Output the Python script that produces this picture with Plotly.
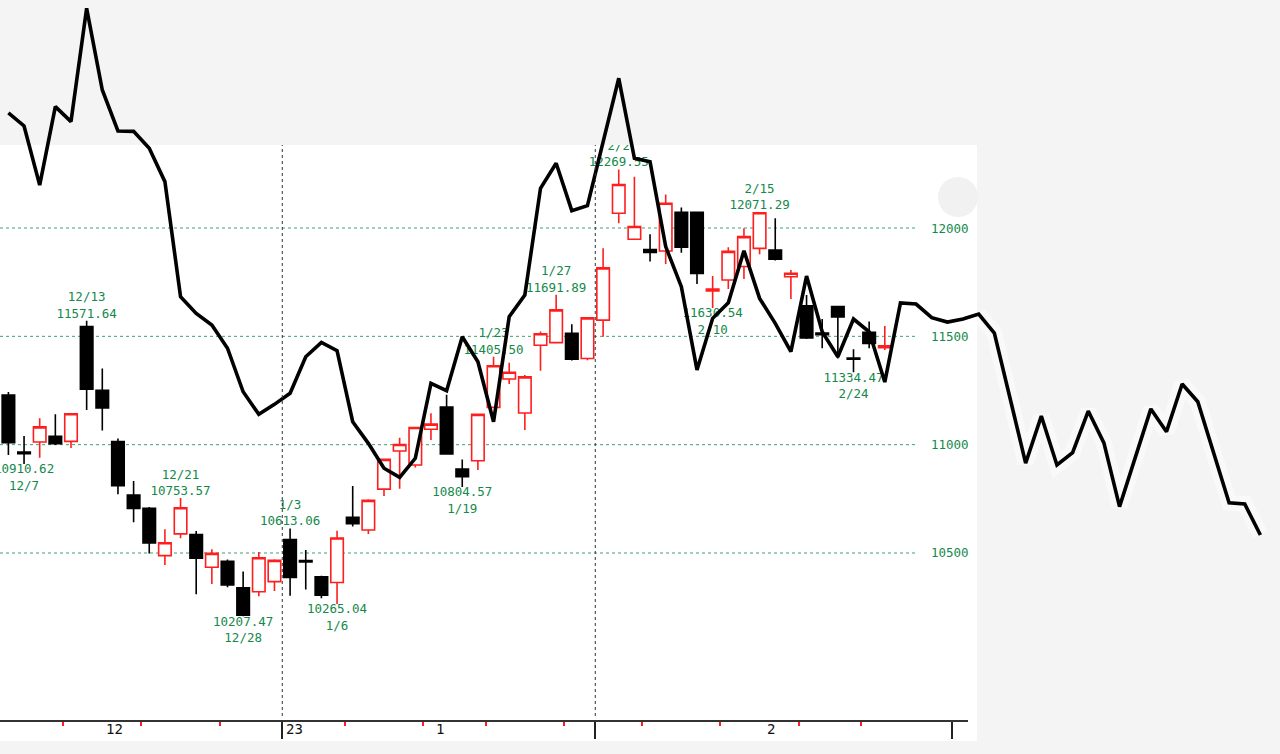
import plotly.graph_objects as go

# ---------------- data ----------------
dates = ["12/6", "12/7", "12/8", "12/9", "12/12", "12/13", "12/14", "12/15", "12/16",
         "12/19", "12/20", "12/21", "12/22", "12/23", "12/27", "12/28", "12/29", "12/30",
         "1/3", "1/4", "1/5", "1/6", "1/9", "1/10", "1/11", "1/12", "1/13", "1/17", "1/18",
         "1/19", "1/20", "1/23", "1/24", "1/25", "1/26", "1/27", "1/30", "1/31",
         "2/1", "2/2", "2/3", "2/6", "2/7", "2/8", "2/9", "2/10", "2/13", "2/14", "2/15",
         "2/16", "2/17", "2/21", "2/22", "2/23", "2/24", "2/27", "2/28"]
opens = [11229, 10966, 11012, 11039, 11015, 11545, 11251, 11014, 10768,
         10706, 10488, 10588, 10585, 10434, 10462, 10339, 10321, 10368,
         10562, 10465, 10390, 10364, 10665, 10606, 10795, 10971, 10906, 11071, 11174,
         10888, 10926, 11172, 11303, 11146, 11459, 11471, 11514, 11398,
         11575, 12068, 11948, 11900, 11894, 12072, 12072, 11710, 11760, 11822, 11906,
         11898, 11775, 11641, 11515, 11637, 11400, 11519, 11447]
highs = [11243, 11040, 11122, 11140, 11145, 11571.64, 11352, 11029, 10832,
         10712, 10609, 10753.57, 10602, 10517, 10470, 10414, 10505, 10471,
         10613.06, 10514, 10395, 10603, 10809, 10748, 10934, 11032, 11083, 11145, 11230,
         10932, 11144, 11405.50, 11378, 11321, 11522, 11691.89, 11556, 11587,
         11906, 12269.55, 12237, 11971, 12155, 12095, 12075, 11778, 11911, 11999, 12071.29,
         12045, 11806, 11691, 11580, 11640, 11440, 11568, 11548]
lows = [10952, 10910.62, 10940, 10998, 10985, 11160, 11065, 10771, 10642,
        10498, 10445, 10568, 10309, 10357, 10342, 10207.47, 10300, 10325,
        10303, 10332, 10291, 10265.04, 10622, 10588, 10763, 10797, 10895, 11022, 10953,
        10804.57, 10883, 11168, 11280, 11068, 11341, 11470, 11388, 11390,
        11498, 12022, 11945, 11845, 11834, 11886, 11742, 11630.54, 11718, 11765, 11879,
        11850, 11672, 11488, 11445, 11398, 11334.47, 11445, 11437]
closes = [11009, 10958, 11082, 11004, 11143, 11256, 11170, 10811, 10705,
          10546, 10547, 10709, 10476, 10498, 10353, 10213, 10478, 10466,
          10387, 10459, 10305, 10569, 10635, 10743, 10932, 11001, 11079, 11095, 10957,
          10852, 11140, 11364, 11334, 11313, 11512, 11622, 11394, 11585,
          11816, 12201, 12007, 11887, 12114, 11911, 11790, 11718, 11892, 11960, 12070.59,
          11856, 11791, 11492, 11507, 11590, 11395, 11467, 11456]

high_label_dates = ["12/13", "12/21", "1/3", "1/23", "1/27", "2/2", "2/15"]
low_label_dates = ["12/7", "12/28", "1/6", "1/19", "2/10", "2/24"]

# overlay line (trading-day index, value)
line_idx = [0, 1, 2, 3, 4, 5, 6, 7, 8, 9, 10, 11, 12, 13, 14, 15, 16, 17, 18, 19, 20,
            21, 22, 23, 24, 25, 26, 27, 28, 29, 30, 31, 32, 33, 34, 35, 36, 37, 39, 40,
            41, 42, 43, 44, 45, 46, 47, 48, 49, 50, 51, 52, 53, 54, 55, 56, 57, 58, 59,
            60, 61, 62, 63, 65, 66, 67, 68, 69, 70, 71, 73, 74, 75, 76, 78, 79, 80]
line_val = [12531, 12471, 12198, 12560, 12491, 13014, 12637, 12448, 12446, 12368, 12214,
            11683, 11606, 11552, 11445, 11244, 11140, 11186, 11237, 11406, 11472,
            11434, 11106, 11006, 10891, 10849, 10937, 11283, 11249, 11498, 11383, 11106,
            11591, 11691, 12183, 12299, 12080, 12103, 12691, 12322,
            12306, 11914, 11729, 11345, 11583, 11655, 11895, 11675, 11560, 11429, 11778,
            11521, 11406, 11580, 11521, 11289, 11654, 11649, 11586,
            11566, 11580, 11603, 11515, 10915, 11132, 10906, 10963, 11155, 11008, 10714,
            11165, 11060, 11280, 11198, 10732, 10726, 10583]

y_ticks = [10500, 11000, 11500, 12000]
month_sep = [17.5, 37.5]
axis_major_ticks = [17.5, 37.5, 60.3]
week_ticks = [3.5, 8.5, 13.5, 21.5, 26.5, 30.5, 35.5, 40.5, 45.5, 50.5, 54.5]
month_label_pos = [6.75, 27.6, 48.7]
month_label_text = ["12", "1", "2"]
year_label_pos = 17.62
year_label_text = "23"

# ---------------- geometry / styling ----------------
W, H = 1280, 754
PX_PER_DAY = 15.65
X0PX = 8.4
PX_PER_500 = 108.33


def val_at(py):
    return 12000 - (py - 228) * 500.0 / PX_PER_500


xA_range = [-X0PX / PX_PER_DAY, (968 - X0PX) / PX_PER_DAY]
xB_range = [-X0PX / PX_PER_DAY, (W - X0PX) / PX_PER_DAY]
yA_range = [val_at(720), val_at(145)]
yB_range = [val_at(754), val_at(0)]

GREEN = "#14894b"
GRID_GREEN = "#3fa36f"
RED = "#ff1e1e"
BG = "#f4f4f4"
MONO = "DejaVu Sans Mono"

idx = list(range(len(dates)))

fig = go.Figure()

fig.add_trace(go.Candlestick(
    x=idx, open=opens, high=highs, low=lows, close=closes,
    increasing=dict(line=dict(color=RED, width=1.6), fillcolor="#ffffff"),
    decreasing=dict(line=dict(color="#000000", width=1.6), fillcolor="#000000"),
    whiskerwidth=0, showlegend=False, xaxis="x", yaxis="y",
    text=dates, hoverinfo="text+y",
))

hi_x = [dates.index(d) for d in high_label_dates]
hi_y = [highs[i] for i in hi_x]
hi_t = [f"{dates[i]}<br>{highs[i]:.2f}" for i in hi_x]
lo_x = [dates.index(d) for d in low_label_dates]
lo_y = [lows[i] for i in lo_x]
lo_t = [f"{lows[i]:.2f}<br>{dates[i]}" for i in lo_x]

fig.add_trace(go.Scatter(
    x=hi_x, y=hi_y, mode="text", text=hi_t, textposition="top center",
    textfont=dict(family=MONO, size=12.5, color=GREEN), cliponaxis=True,
    showlegend=False, hoverinfo="skip", xaxis="x", yaxis="y"))
fig.add_trace(go.Scatter(
    x=lo_x, y=lo_y, mode="text", text=lo_t, textposition="bottom center",
    textfont=dict(family=MONO, size=12.5, color=GREEN), cliponaxis=True,
    showlegend=False, hoverinfo="skip", xaxis="x", yaxis="y"))

# faint halo of the line where it runs over the grey background
halo_x = [x for x in line_idx if x >= 62]
halo_y = [v for x, v in zip(line_idx, line_val) if x >= 62]
fig.add_trace(go.Scatter(
    x=halo_x, y=halo_y, mode="lines",
    line=dict(color="rgba(255,255,255,0.45)", width=16),
    showlegend=False, hoverinfo="skip", xaxis="x2", yaxis="y2"))

fig.add_trace(go.Scatter(
    x=line_idx, y=line_val, mode="lines",
    line=dict(color="#000000", width=3.6),
    showlegend=False, hoverinfo="skip", xaxis="x2", yaxis="y2"))

shapes = [
    dict(type="rect", xref="paper", yref="paper", x0=0, x1=977 / W,
         y0=1 - 741 / H, y1=1 - 145 / H, fillcolor="#ffffff",
         line=dict(width=0), layer="below"),
    dict(type="circle", xref="paper", yref="paper", x0=938 / W, x1=978 / W,
         y0=1 - 217 / H, y1=1 - 177 / H, fillcolor="#f1f1f1",
         line=dict(width=0), layer="below"),
]
for v in y_ticks:
    shapes.append(dict(type="line", xref="paper", yref="y", x0=0, x1=917 / W,
                       y0=v, y1=v, line=dict(color=GRID_GREEN, width=1, dash="dot"),
                       layer="below"))
for m in month_sep:
    shapes.append(dict(type="line", xref="x", yref="paper", x0=m, x1=m,
                       y0=1 - 716 / H, y1=1 - 145 / H,
                       line=dict(color="#333333", width=1, dash="dot"), layer="above"))

annotations = []
for v in y_ticks:
    annotations.append(dict(xref="paper", yref="y", x=971 / W, y=v, text=str(v),
                            xanchor="right", yanchor="middle", showarrow=False,
                            font=dict(family=MONO, size=12.5, color=GREEN)))
for p, t in zip(month_label_pos, month_label_text):
    annotations.append(dict(xref="x", yref="paper", x=p, y=1 - 729 / H, text=t,
                            xanchor="center", yanchor="middle", showarrow=False,
                            font=dict(family=MONO, size=14, color="#111111")))
annotations.append(dict(xref="x", yref="paper", x=year_label_pos, y=1 - 729 / H,
                        text=year_label_text, xanchor="left", yanchor="middle",
                        showarrow=False, font=dict(family=MONO, size=14, color="#111111")))

fig.update_layout(
    width=W, height=H, autosize=False,
    margin=dict(l=0, r=0, t=0, b=0, pad=0),
    paper_bgcolor=BG, plot_bgcolor="rgba(0,0,0,0)",
    boxgap=0.2, boxgroupgap=0, showlegend=False,
    xaxis=dict(domain=[0, 968 / W], range=xA_range, rangeslider=dict(visible=False),
               showgrid=False, zeroline=False, showline=True, linecolor="#333333",
               linewidth=2, ticks="outside", tickmode="array", tickvals=axis_major_ticks,
               ticklen=17, tickwidth=2, tickcolor="#222222", showticklabels=False,
               minor=dict(tickmode="array", tickvals=week_ticks, ticks="outside",
                          ticklen=4, tickwidth=1.5, tickcolor=RED, showgrid=False),
               fixedrange=True, anchor="y"),
    yaxis=dict(domain=[1 - 720 / H, 1 - 145 / H], range=yA_range, showgrid=False,
               zeroline=False, showticklabels=False, ticks="", showline=False,
               fixedrange=True, anchor="x"),
    xaxis2=dict(domain=[0, 1], range=xB_range, visible=False, anchor="y2",
                fixedrange=True),
    yaxis2=dict(domain=[0, 1], range=yB_range, visible=False, anchor="x2",
                fixedrange=True),
    shapes=shapes, annotations=annotations,
)

fig.write_html("out.html", config={"displayModeBar": False},
               post_script="document.body.style.margin='0';document.body.style.padding='0';"
                           "document.body.style.background='#f4f4f4';")
